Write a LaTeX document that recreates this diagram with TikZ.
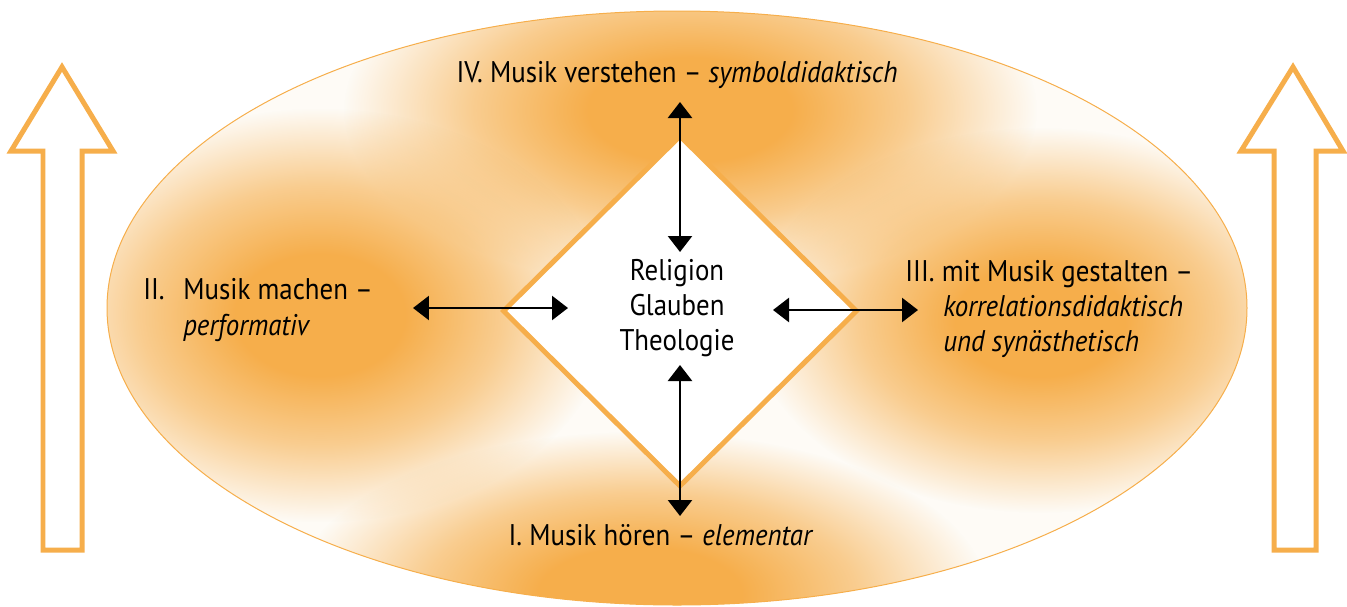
\documentclass[tikz,border=0pt]{standalone}
\usepackage{fontspec}
\setmainfont{PT Sans}[FakeStretch=0.9]
\usetikzlibrary{arrows.meta,shapes.geometric,fadings}
\definecolor{musorange}{RGB}{246,174,75}
\pgfdeclareradialshading{blobshade}{\pgfpointorigin}{color(0bp)=(pgftransparent!0); color(7bp)=(pgftransparent!0); color(15bp)=(pgftransparent!40); color(24bp)=(pgftransparent!100); color(50bp)=(pgftransparent!100)}
\pgfdeclarefading{blobfade}{\pgfuseshading{blobshade}}
\tikzset{
  stage/.style={font=\fontsize{17}{20}\selectfont, align=left, inner sep=0pt},
  link/.style={{Triangle[length=0.32cm,width=0.48cm]}-{Triangle[length=0.32cm,width=0.48cm]}, line width=0.05cm},
  growth/.style={draw=musorange, line width=0.1cm, fill=white, miter limit=4},
  blob/.style={fill=musorange, path fading=blobfade},
}
\begin{document}
\begin{tikzpicture}[x=0.02cm,y=-0.02cm]
\useasboundingbox (0,0) rectangle (1347,606);
% field
\fill[musorange!5] (677,308) ellipse (570 and 297);
\begin{scope}
\clip (677,308) ellipse (570 and 297);
\fill[blob] (690,110) ellipse (360 and 185);
\fill[blob] (320,315) ellipse (300 and 215);
\fill[blob] (1040,320) ellipse (300 and 200);
\fill[blob] (640,595) ellipse (360 and 170);
\end{scope}
\draw[musorange, line width=0.02cm] (677,308) ellipse (570 and 297);
% core
\node[diamond, draw=musorange, fill=white, line width=0.1cm, minimum width=7.1cm, minimum height=7.04cm, inner sep=0pt] (core) at (680,311) {};
\node[stage, align=center] (ctr) at (677,308) {Religion\\Glauben\\Theologie};
% stages
\node[stage] (hoeren) at (661,535) {I. Musik hören – \textit{elementar}};
\node[stage, anchor=west] (machen) at (143,310) {\makebox[0.8cm][l]{II.}Musik machen –\\\hspace*{0.8cm}\textit{performativ}};
\node[stage, anchor=west] (gestalten) at (905,309) {III. mit Musik gestalten –\\\hspace*{0.76cm}\textit{korrelationsdidaktisch}\\\hspace*{0.76cm}\textit{und synästhetisch}};
\node[stage] (verstehen) at (677,75) {IV. Musik verstehen – \textit{symboldidaktisch}};
% links
\coordinate (n1) at (680,102);
\coordinate (n2) at (680,252);
\coordinate (s1) at (680,365);
\coordinate (s2) at (680,516);
\coordinate (w1) at (413,308);
\coordinate (w2) at (568,308);
\coordinate (e1) at (773,310);
\coordinate (e2) at (918,310);
\draw[link] (n1) -- (n2);
\draw[link] (s1) -- (s2);
\draw[link] (w1) -- (w2);
\draw[link] (e1) -- (e2);
% side arrows
\draw[growth] (62,67) -- (11,151) -- (43,151) -- (43,550) -- (82,550) -- (82,151) -- (113,151) -- cycle;
\draw[growth] (1293,67) -- (1241,151) -- (1274,151) -- (1274,550) -- (1316,550) -- (1316,151) -- (1343,151) -- cycle;
\end{tikzpicture}
\end{document}
